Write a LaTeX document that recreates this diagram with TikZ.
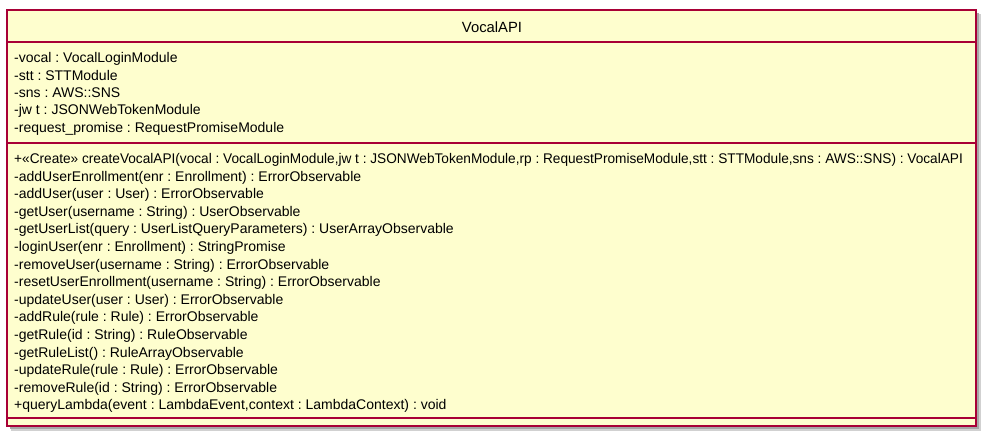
\documentclass[tikz,border=0pt]{standalone}
\usepackage{fontspec}
\setmainfont{Liberation Sans}
\usepackage{xcolor}
\usepackage{tikz}
\usetikzlibrary{calc}

\definecolor{classfill}{HTML}{FEFECE}
\definecolor{classline}{HTML}{A80036}

\frenchspacing
\tikzset{
  member/.style={anchor=base west, inner sep=0pt, font=\fontsize{14}{16}\selectfont},
  classname/.style={anchor=base, inner sep=0pt, font=\fontsize{14.8}{17}\selectfont},
  divider/.style={draw=classline, line width=1.4pt}
}

\begin{document}
\begin{tikzpicture}[x=1pt,y=-1pt]
    \useasboundingbox (0,0) rectangle (989,440);

    % shadow and box
    \fill[black!18] (11,14) rectangle (981,431);
    \fill[black!35] (10,13) rectangle (979,429);
    \filldraw[fill=classfill, divider] (7,10) rectangle (976,426);
    \draw[divider] (7,42) -- (976,42);
    \draw[divider] (7,143) -- (976,143);
    \draw[divider] (7,418) -- (976,418);

    \node[classname] (vocalapi) at (492,32.7) {VocalAPI};

    \node[member] (a1) at (14,62.5) {-vocal : VocalLoginModule};
    \node[member] (a2) at (14,80) {-stt : STTModule};
    \node[member] (a3) at (14,97.4) {-sns : AWS::SNS};
    \node[member] (a4) at (14,114.8) {-jw t : JSONWebTokenModule};
    \node[member] (a5) at (14,132.2) {-request\_promise : RequestPromiseModule};

    % the long one is set a little tighter
    \node[member] (o1) at (14,163.5) {\scalebox{0.975}[1]{+«Create» createVocalAPI(vocal : VocalLoginModule,jw t : JSONWebTokenModule,rp : RequestPromiseModule,stt : STTModule,sns : AWS::SNS) : VocalAPI}};
    \node[member] (o2) at (14,181.1) {-addUserEnrollment(enr : Enrollment) : ErrorObservable};
    \node[member] (o3) at (14,198.7) {-addUser(user : User) : ErrorObservable};
    \node[member] (o4) at (14,216.3) {-getUser(username : String) : UserObservable};
    \node[member] (o5) at (14,233.9) {-getUserList(query : UserListQueryParameters) : UserArrayObservable};
    \node[member] (o6) at (14,251.5) {-loginUser(enr : Enrollment) : StringPromise};
    \node[member] (o7) at (14,269.1) {-removeUser(username : String) : ErrorObservable};
    \node[member] (o8) at (14,286.7) {-resetUserEnrollment(username : String) : ErrorObservable};
    \node[member] (o9) at (14,304.3) {-updateUser(user : User) : ErrorObservable};
    \node[member] (o10) at (14,321.9) {-addRule(rule : Rule) : ErrorObservable};
    \node[member] (o11) at (14,339.5) {-getRule(id : String) : RuleObservable};
    \node[member] (o12) at (14,357.1) {-getRuleList() : RuleArrayObservable};
    \node[member] (o13) at (14,374.7) {-updateRule(rule : Rule) : ErrorObservable};
    \node[member] (o14) at (14,392.3) {-removeRule(id : String) : ErrorObservable};
    \node[member] (o15) at (14,409.9) {+queryLambda(event : LambdaEvent,context : LambdaContext) : void};
\end{tikzpicture}
\end{document}
